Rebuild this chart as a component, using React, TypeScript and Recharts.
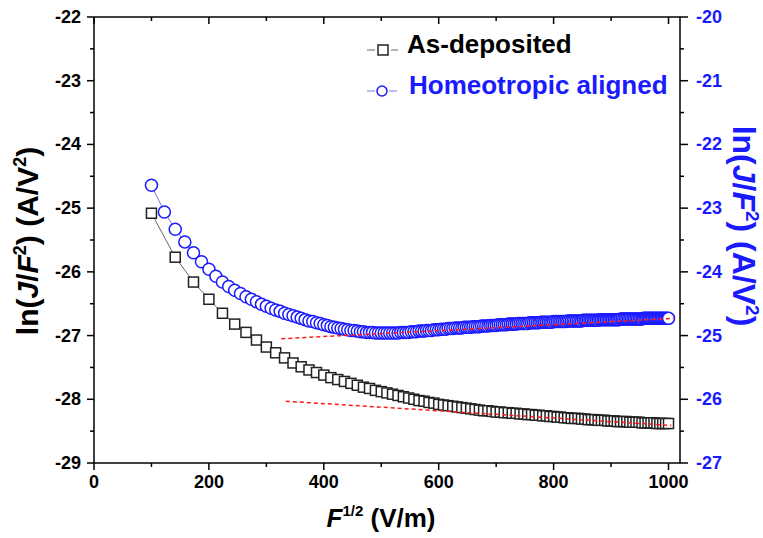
import React from 'react';
import { ScatterChart, Scatter, XAxis, YAxis, Legend } from 'recharts';

const xTicks = [0, 100, 200, 300, 400, 500, 600, 700, 800, 900, 1000];
const leftTicks = [-29, -28.5, -28, -27.5, -27, -26.5, -26, -25.5, -25, -24.5, -24, -23.5, -23, -22.5, -22];
const rightTicks = [-27, -26.5, -26, -25.5, -25, -24.5, -24, -23.5, -23, -22.5, -22, -21.5, -21, -20.5, -20];

const asDepositedX = [
  100.0, 141.4, 173.2, 200.0, 223.6, 244.9, 264.6, 282.8, 300.0, 316.2,
  331.7, 346.4, 360.6, 374.2, 387.3, 400.0, 412.3, 424.3, 435.9, 447.2,
  458.3, 469.0, 479.6, 489.9, 500.0, 509.9, 519.6, 529.2, 538.5, 547.7,
  556.8, 565.7, 574.5, 583.1, 591.6, 600.0, 608.3, 616.4, 624.5, 632.5,
  640.3, 648.1, 655.7, 663.3, 670.8, 678.2, 685.6, 692.8, 700.0, 707.1,
  714.1, 721.1, 728.0, 734.8, 741.6, 748.3, 755.0, 761.6, 768.1, 774.6,
  781.0, 787.4, 793.7, 800.0, 806.2, 812.4, 818.5, 824.6, 830.7, 836.7,
  842.6, 848.5, 854.4, 860.2, 866.0, 871.8, 877.5, 883.2, 888.8, 894.4,
  900.0, 905.5, 911.0, 916.5, 922.0, 927.4, 932.7, 938.1, 943.4, 948.7,
  953.9, 959.2, 964.4, 969.5, 974.7, 979.8, 984.9, 989.9, 995.0, 1000.0,
];
const asDepositedY = [
  -25.08, -25.77, -26.16, -26.43, -26.65, -26.82, -26.95, -27.07, -27.18, -27.27,
  -27.35, -27.43, -27.49, -27.54, -27.58, -27.62, -27.66, -27.69, -27.72, -27.75,
  -27.78, -27.81, -27.83, -27.86, -27.88, -27.90, -27.92, -27.94, -27.96, -27.98,
  -28.00, -28.02, -28.03, -28.05, -28.06, -28.08, -28.09, -28.10, -28.11, -28.12,
  -28.13, -28.14, -28.15, -28.16, -28.17, -28.18, -28.18, -28.19, -28.20, -28.20,
  -28.21, -28.21, -28.22, -28.22, -28.23, -28.23, -28.24, -28.24, -28.25, -28.25,
  -28.26, -28.26, -28.27, -28.27, -28.28, -28.28, -28.29, -28.29, -28.30, -28.30,
  -28.30, -28.31, -28.31, -28.32, -28.32, -28.32, -28.33, -28.33, -28.33, -28.34,
  -28.34, -28.34, -28.35, -28.35, -28.35, -28.35, -28.36, -28.36, -28.36, -28.36,
  -28.37, -28.37, -28.37, -28.37, -28.37, -28.38, -28.38, -28.38, -28.38, -28.38,
];

const homeotropicX = [
  100.0, 122.5, 141.4, 158.1, 173.2, 187.1, 200.0, 212.1, 223.6, 234.5,
  244.9, 255.0, 264.6, 273.9, 282.8, 291.5, 300.0, 308.2, 316.2, 324.0,
  331.7, 339.1, 346.4, 353.6, 360.6, 367.4, 374.2, 380.8, 387.3, 393.7,
  400.0, 406.2, 412.3, 418.3, 424.3, 430.1, 435.9, 441.6, 447.2, 452.8,
  458.3, 463.7, 469.0, 474.3, 479.6, 484.8, 489.9, 495.0, 500.0, 505.0,
  509.9, 514.8, 519.6, 524.4, 529.2, 533.9, 538.5, 543.1, 547.7, 552.3,
  556.8, 561.2, 565.7, 570.1, 574.5, 578.8, 583.1, 587.4, 591.6, 595.8,
  600.0, 604.2, 608.3, 612.4, 616.4, 620.5, 624.5, 628.5, 632.5, 636.4,
  640.3, 644.2, 648.1, 651.9, 655.7, 659.5, 663.3, 667.1, 670.8, 674.5,
  678.2, 681.9, 685.6, 689.2, 692.8, 696.4, 700.0, 703.6, 707.1, 710.6,
  714.1, 717.6, 721.1, 724.6, 728.0, 731.4, 734.8, 738.2, 741.6, 745.0,
  748.3, 751.7, 755.0, 758.3, 761.6, 764.9, 768.1, 771.4, 774.6, 777.8,
  781.0, 784.2, 787.4, 790.6, 793.7, 796.9, 800.0, 803.1, 806.2, 809.3,
  812.4, 815.5, 818.5, 821.6, 824.6, 827.6, 830.7, 833.7, 836.7, 839.6,
  842.6, 845.6, 848.5, 851.5, 854.4, 857.3, 860.2, 863.1, 866.0, 868.9,
  871.8, 874.6, 877.5, 880.3, 883.2, 886.0, 888.8, 891.6, 894.4, 897.2,
  900.0, 902.8, 905.5, 908.3, 911.0, 913.8, 916.5, 919.2, 922.0, 924.7,
  927.4, 930.1, 932.7, 935.4, 938.1, 940.7, 943.4, 946.0, 948.7, 951.3,
  953.9, 956.6, 959.2, 961.8, 964.4, 966.9, 969.5, 972.1, 974.7, 977.2,
  979.8, 982.3, 984.9, 987.4, 989.9, 992.5, 995.0, 997.5, 1000.0,
];
const homeotropicY = [
  -22.64, -23.06, -23.33, -23.53, -23.70, -23.84, -23.96, -24.07, -24.16, -24.23,
  -24.29, -24.34, -24.39, -24.43, -24.47, -24.51, -24.54, -24.57, -24.60, -24.62,
  -24.65, -24.67, -24.69, -24.71, -24.73, -24.75, -24.77, -24.78, -24.80, -24.81,
  -24.83, -24.84, -24.86, -24.87, -24.88, -24.89, -24.90, -24.91, -24.92, -24.92,
  -24.93, -24.94, -24.94, -24.95, -24.95, -24.95, -24.96, -24.96, -24.96, -24.96,
  -24.96, -24.96, -24.96, -24.96, -24.96, -24.95, -24.95, -24.95, -24.95, -24.94,
  -24.94, -24.94, -24.93, -24.93, -24.93, -24.92, -24.92, -24.92, -24.91, -24.91,
  -24.91, -24.90, -24.90, -24.90, -24.89, -24.89, -24.89, -24.88, -24.88, -24.88,
  -24.88, -24.87, -24.87, -24.87, -24.87, -24.86, -24.86, -24.86, -24.86, -24.85,
  -24.85, -24.85, -24.85, -24.84, -24.84, -24.84, -24.84, -24.83, -24.83, -24.83,
  -24.83, -24.83, -24.82, -24.82, -24.82, -24.82, -24.82, -24.81, -24.81, -24.81,
  -24.81, -24.81, -24.81, -24.80, -24.80, -24.80, -24.80, -24.80, -24.80, -24.79,
  -24.79, -24.79, -24.79, -24.79, -24.79, -24.79, -24.78, -24.78, -24.78, -24.78,
  -24.78, -24.78, -24.78, -24.78, -24.77, -24.77, -24.77, -24.77, -24.77, -24.77,
  -24.77, -24.77, -24.77, -24.76, -24.76, -24.76, -24.76, -24.76, -24.76, -24.76,
  -24.76, -24.76, -24.76, -24.75, -24.75, -24.75, -24.75, -24.75, -24.75, -24.75,
  -24.75, -24.75, -24.75, -24.75, -24.75, -24.75, -24.74, -24.74, -24.74, -24.74,
  -24.74, -24.74, -24.74, -24.74, -24.74, -24.74, -24.74, -24.74, -24.74, -24.74,
  -24.74, -24.73, -24.73, -24.73, -24.73, -24.73, -24.73, -24.73, -24.73, -24.73,
  -24.73, -24.73, -24.73, -24.73, -24.73, -24.73, -24.73, -24.73, -24.73,
];

const fitAsDepositedX = [334, 1005];
const fitAsDepositedY = [-28.03, -28.41];
const fitHomeotropicX = [326, 1009];
const fitHomeotropicY = [-25.05, -24.73];

const legendLabels = ['As-deposited', 'Homeotropic aligned'];

const FONT = '"Liberation Sans", Arial, Helvetica, sans-serif';
const BLUE = '#1a1aff';
const RED = '#ff1a1a';

const zip = (xs: number[], ys: number[]) => xs.map((x, i) => ({ x, y: ys[i] }));
const asDepositedData = zip(asDepositedX, asDepositedY);
const homeotropicData = zip(homeotropicX, homeotropicY);
const fitAsDepositedData = zip(fitAsDepositedX, fitAsDepositedY);
const fitHomeotropicData = zip(fitHomeotropicX, fitHomeotropicY);

const BottomTick = (props: any) => {
  const { x, y, payload } = props;
  const v = payload.value;
  const major = Math.round(v) % 200 === 0;
  return (
    <g>
      <line x1={x} x2={x} y1={y} y2={y + (major ? 7 : 4)} stroke="#000" strokeWidth={1.5} />
      {major && (
        <text x={x} y={y + 25} textAnchor="middle" fontFamily={FONT} fontWeight="bold" fontSize={18} fill="#000">
          {v}
        </text>
      )}
    </g>
  );
};

const TopTick = (props: any) => {
  const { x, y, payload } = props;
  const major = Math.round(payload.value) % 200 === 0;
  return <line x1={x} x2={x} y1={y} y2={y + (major ? 7 : 4)} stroke="#000" strokeWidth={1.5} />;
};

const LeftTick = (props: any) => {
  const { x, y, payload } = props;
  const v = payload.value;
  const major = Number.isInteger(v);
  return (
    <g>
      <line x1={x} x2={x - (major ? 7 : 4)} y1={y} y2={y} stroke="#000" strokeWidth={1.5} />
      {major && (
        <text x={x - 13} y={y + 6} textAnchor="end" fontFamily={FONT} fontWeight="bold" fontSize={18} fill="#000">
          {v}
        </text>
      )}
    </g>
  );
};

const RightTick = (props: any) => {
  const { x, y, payload } = props;
  const v = payload.value;
  const major = Number.isInteger(v);
  return (
    <g>
      <line x1={x} x2={x + (major ? 8 : 4)} y1={y} y2={y} stroke="#000" strokeWidth={1.5} />
      {major && (
        <text x={x + 16} y={y + 6} textAnchor="start" fontFamily={FONT} fontWeight="bold" fontSize={18} fill={BLUE}>
          {v}
        </text>
      )}
    </g>
  );
};

const XTitle = () => (
  <text x={381} y={527} textAnchor="middle" fontFamily={FONT} fontWeight="bold" fontSize={26} fill="#000">
    <tspan fontStyle="italic">F</tspan>
    <tspan fontSize={15} dy={-11}>1/2</tspan>
    <tspan dy={11}> (V/m)</tspan>
  </text>
);

const LeftTitle = () => (
  <text
    x={0}
    y={0}
    transform="translate(38,241) rotate(-90)"
    textAnchor="middle"
    fontFamily={FONT}
    fontWeight="bold"
    fontSize={30}
    fill="#000"
  >
    <tspan>ln(</tspan>
    <tspan fontStyle="italic">J</tspan>
    <tspan>/</tspan>
    <tspan fontStyle="italic">F</tspan>
    <tspan fontSize={18} dy={-12}>2</tspan>
    <tspan dy={12}>) (A/V</tspan>
    <tspan fontSize={18} dy={-12}>2</tspan>
    <tspan dy={12}>)</tspan>
  </text>
);

const RightTitle = () => (
  <text
    x={0}
    y={0}
    transform="translate(733,226) rotate(90)"
    textAnchor="middle"
    fontFamily={FONT}
    fontWeight="bold"
    fontSize={32}
    fill={BLUE}
  >
    <tspan>ln(</tspan>
    <tspan fontStyle="italic">J</tspan>
    <tspan>/</tspan>
    <tspan fontStyle="italic">F</tspan>
    <tspan fontSize={19} dy={-13}>2</tspan>
    <tspan dy={13}>) (A/V</tspan>
    <tspan fontSize={19} dy={-13}>2</tspan>
    <tspan dy={13}>)</tspan>
  </text>
);

const LegendBox = () => (
  <svg width={340} height={85} style={{ overflow: 'visible', display: 'block' }}>
    <line x1={7} x2={15} y1={25} y2={25} stroke="#666" strokeWidth={1} />
    <line x1={31} x2={38} y1={25} y2={25} stroke="#666" strokeWidth={1} />
    <rect x={18} y={20} width={10} height={10} fill="#fff" stroke="#222" strokeWidth={1.5} />
    <text x={47} y={28} fontFamily={FONT} fontWeight="bold" fontSize={26} fill="#000">
      {legendLabels[0]}
    </text>
    <line x1={7} x2={15} y1={66} y2={66} stroke="#7777dd" strokeWidth={1} />
    <line x1={29} x2={37} y1={66} y2={66} stroke="#7777dd" strokeWidth={1} />
    <circle cx={22} cy={66} r={5} fill="#fff" stroke={BLUE} strokeWidth={1.5} />
    <text x={49} y={69} fontFamily={FONT} fontWeight="bold" fontSize={26} fill={BLUE}>
      {legendLabels[1]}
    </text>
  </svg>
);

const SquareShape = (p: any) => (
  <rect x={p.cx - 5} y={p.cy - 5} width={10} height={10} fill="#fff" stroke="#222" strokeWidth={1.5} />
);
const CircleShape = (p: any) => (
  <circle cx={p.cx} cy={p.cy} r={6} fill="#fff" stroke={BLUE} strokeWidth={1.5} />
);
const NoShape = () => <g />;

const axisLine = { stroke: '#000', strokeWidth: 1.5 };

export default function App() {
  return (
    <div style={{ position: 'absolute', left: 0, top: 0, background: '#fff' }}>
      <ScatterChart width={763} height={538} margin={{ top: 16, right: 0, bottom: 0, left: 0 }}>
        <XAxis
          xAxisId="b"
          type="number"
          dataKey="x"
          domain={[0, 1020]}
          allowDataOverflow
          ticks={xTicks}
          interval={0}
          tickSize={0}
          tickMargin={0}
          tickLine={false}
          tick={BottomTick}
          axisLine={axisLine}
          height={75}
          label={<XTitle />}
        />
        <XAxis
          xAxisId="t"
          orientation="top"
          type="number"
          dataKey="x"
          domain={[0, 1020]}
          allowDataOverflow
          ticks={xTicks}
          interval={0}
          tickSize={0}
          tickMargin={0}
          tickLine={false}
          tick={TopTick}
          axisLine={axisLine}
          height={1}
        />
        <YAxis
          yAxisId="l"
          type="number"
          dataKey="y"
          domain={[-29, -22]}
          allowDataOverflow
          ticks={leftTicks}
          interval={0}
          tickSize={0}
          tickMargin={0}
          tickLine={false}
          tick={LeftTick}
          axisLine={axisLine}
          width={94}
          label={<LeftTitle />}
        />
        <YAxis
          yAxisId="r"
          orientation="right"
          type="number"
          dataKey="y"
          domain={[-27, -20]}
          allowDataOverflow
          ticks={rightTicks}
          interval={0}
          tickSize={0}
          tickMargin={0}
          tickLine={false}
          tick={RightTick}
          axisLine={axisLine}
          width={83}
          label={<RightTitle />}
        />
        <Legend
          layout="horizontal"
          verticalAlign="middle"
          align="center"
          wrapperStyle={{ left: 360, top: 25, width: 340, height: 85 }}
          content={<LegendBox />}
        />
        <Scatter
          name={legendLabels[1]}
          data={homeotropicData}
          xAxisId="b"
          yAxisId="r"
          line={{ stroke: '#7777dd', strokeWidth: 1 }}
          shape={CircleShape}
          isAnimationActive={false}
        />
        <Scatter
          name={legendLabels[0]}
          data={asDepositedData}
          xAxisId="b"
          yAxisId="l"
          line={{ stroke: '#666', strokeWidth: 1 }}
          shape={SquareShape}
          isAnimationActive={false}
        />
        <Scatter
          name="fit1"
          data={fitAsDepositedData}
          xAxisId="t"
          yAxisId="l"
          line={{ stroke: RED, strokeWidth: 1.5, strokeDasharray: '4 3' }}
          shape={NoShape}
          legendType="none"
          isAnimationActive={false}
        />
        <Scatter
          name="fit2"
          data={fitHomeotropicData}
          xAxisId="b"
          yAxisId="r"
          line={{ stroke: RED, strokeWidth: 1.5, strokeDasharray: '4 3' }}
          shape={NoShape}
          legendType="none"
          isAnimationActive={false}
        />
      </ScatterChart>
    </div>
  );
}
